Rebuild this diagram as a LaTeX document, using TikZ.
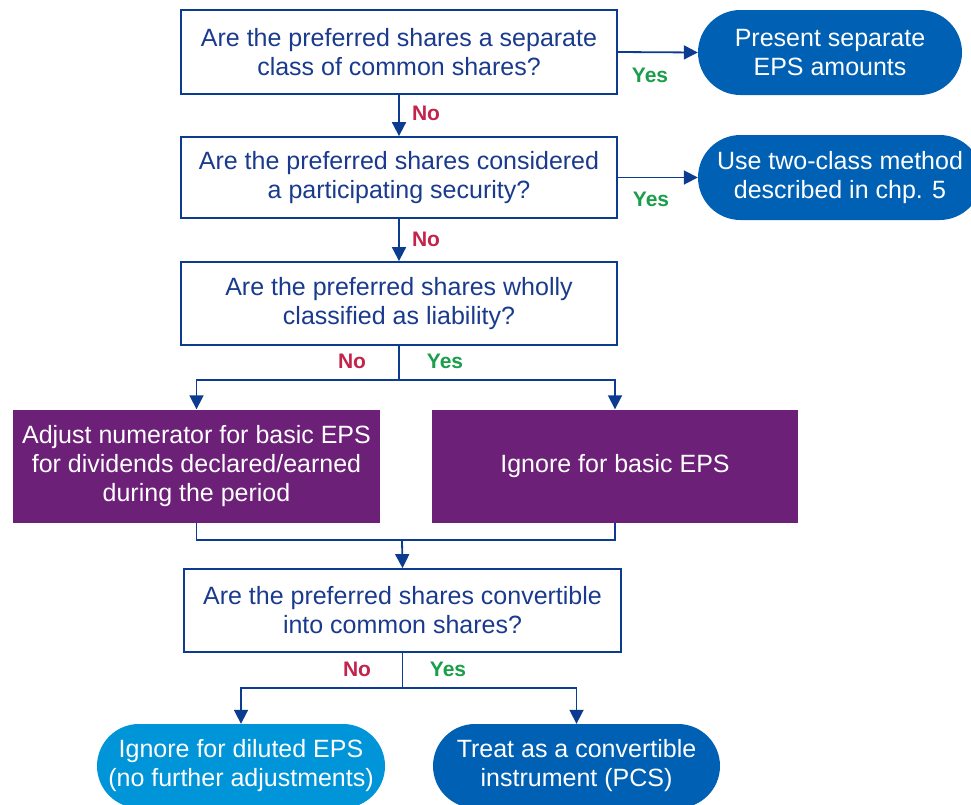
\documentclass[tikz,border=0pt]{standalone}
\usepackage{fontspec}
\setmainfont{Liberation Sans}
\usetikzlibrary{arrows.meta,shapes.misc}
\definecolor{qblue}{HTML}{0B3C8F}
\definecolor{qtext}{HTML}{1A3A8E}
\definecolor{tblue}{HTML}{0060B4}
\definecolor{lblue}{HTML}{0094D8}
\definecolor{purp}{HTML}{6C2077}
\definecolor{nored}{HTML}{C3244C}
\definecolor{yesgreen}{HTML}{1A9E4A}
\tikzset{
  x=1pt,y=-1pt,
  every node/.style={font=\fontsize{25}{29}\selectfont, align=center, inner sep=0pt},
  qbox/.style={draw=qblue, line width=1.8pt, fill=white, text=qtext, minimum width=436pt},
  term/.style={rounded rectangle, fill=tblue, text=white, minimum height=85pt},
  termlight/.style={rounded rectangle, fill=lblue, text=white, minimum height=84pt},
  pbox/.style={fill=purp, text=white, minimum width=367pt, minimum height=113pt},
  conn/.style={draw=qblue, line width=1.8pt},
  arr/.style={conn, -{Triangle[length=14pt,width=14pt]}},
  nolab/.style={text=nored, font=\fontsize{21}{23}\selectfont\bfseries},
  yeslab/.style={text=yesgreen, font=\fontsize{21}{23}\selectfont\bfseries},
}
\begin{document}
\begin{tikzpicture}
\useasboundingbox (0,0) rectangle (971,804);
\clip (0,0) rectangle (971,804);
% question boxes
\node[qbox, minimum height=84pt] (q1) at (399,52) {Are the preferred shares a separate\\class of common shares?};
\node[qbox, minimum height=81pt] (q2) at (399,177.5) {Are the preferred shares considered\\a participating security?};
\node[qbox, minimum height=83pt] (q3) at (399,303.5) {Are the preferred shares wholly\\classified as liability?};
\node[qbox, minimum width=437pt, minimum height=83pt] (q4) at (402.5,610.5) {Are the preferred shares convertible\\into common shares?};
% terminals
\node[term, minimum width=264pt] (t1) at (830,52.5) {Present separate\\EPS amounts};
\node[term, minimum width=284pt] (t2) at (840,177.5) {Use two-class method\\described in chp. 5};
\node[termlight, minimum width=288pt] (t3) at (241,766) {Ignore for diluted EPS\\(no further adjustments)};
\node[term, minimum width=287pt, minimum height=84pt] (t4) at (576.5,766) {Treat as a convertible\\instrument (PCS)};
% purple boxes
\node[pbox] (p1) at (196.5,466) {Adjust numerator for basic EPS\\for dividends declared/earned\\during the period};
\node[pbox, minimum width=366pt] (p2) at (615,466) {Ignore for basic EPS};
% coordinates
\coordinate (b1) at (399,380);
\coordinate (m1) at (402,540);
\coordinate (b2) at (402.5,688);
% connectors
\draw[arr] (q1.east) -- (t1.west);
\node[yeslab] (y1) at (650,75) {Yes};
\draw[arr] (q1.south) -- (q2.north);
\node[nolab] (n1) at (426,113) {No};
\draw[arr] (q2.east) -- (t2.west);
\node[yeslab] (y2) at (651,199) {Yes};
\draw[arr] (q2.south) -- (q3.north);
\node[nolab] (n2) at (426,239) {No};
\draw[conn] (q3.south) -- (b1);
\draw[arr] (b1) -| (p1.north);
\draw[arr] (b1) -| (p2.north);
\node[nolab] (n3) at (352,361) {No};
\node[yeslab] (y3) at (445,361) {Yes};
\draw[conn] (p1.south) |- (m1) -| (p2.south);
\draw[arr] (m1) -- (q4.north);
\draw[conn] (q4.south) -- (b2);
\draw[arr] (b2) -| (t3.north);
\draw[arr] (b2) -| (t4.north);
\node[nolab] (n4) at (357,669) {No};
\node[yeslab] (y4) at (448,669) {Yes};
\end{tikzpicture}
\end{document}
